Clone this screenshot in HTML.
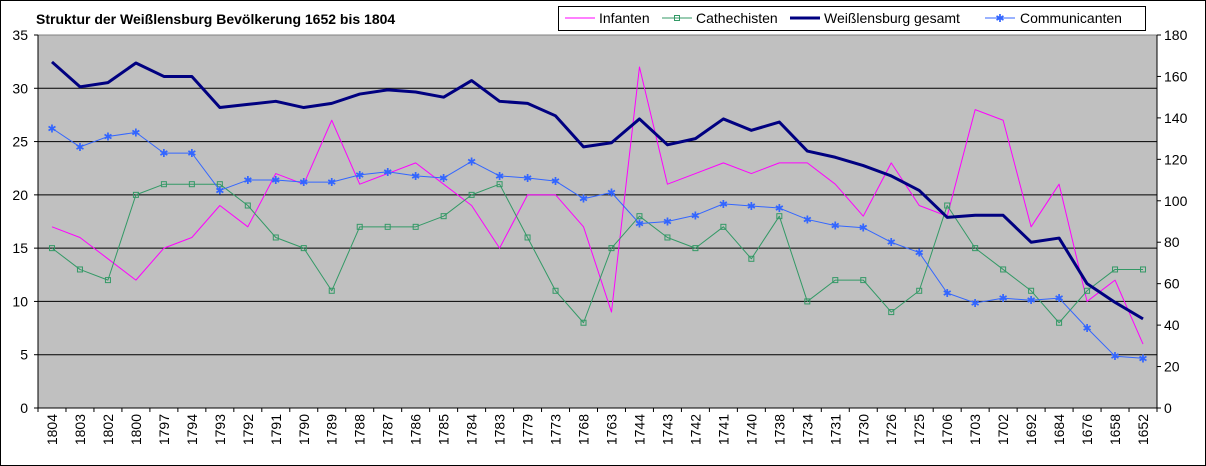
<!DOCTYPE html>
<html><head><meta charset="utf-8"><style>
body{margin:0;background:#fff;}
svg{display:block;font-family:"Liberation Sans",Arial,sans-serif;}
</style></head><body>
<svg width="1206" height="466" viewBox="0 0 1206 466">
<rect x="0.5" y="0.5" width="1205" height="465" fill="#fff" stroke="#000"/>
<text x="36" y="24" font-size="14" font-weight="bold">Struktur der Weißlensburg Bevölkerung 1652 bis 1804</text>
<rect x="38" y="35" width="1119" height="373" fill="#c0c0c0" stroke="#808080"/>
<g id="grid"></g><g id="axes"></g><g id="series"></g>
<g>
<rect x="558.5" y="6.5" width="587" height="24" fill="#fff" stroke="#000"/>
<g><line x1="565" y1="18" x2="595" y2="18" stroke="#ff00ff"/><text x="599" y="23" font-size="14">Infanten</text></g>
<g><line x1="662" y1="18" x2="692" y2="18" stroke="#339966"/><rect x="674.5" y="15.5" width="5" height="5" fill="none" stroke="#339966"/><text x="696" y="23" font-size="14">Cathechisten</text></g>
<g><line x1="790" y1="18" x2="820" y2="18" stroke="#000080" stroke-width="3"/><text x="824" y="23" font-size="14">Weißlensburg gesamt</text></g>
<g><line x1="985" y1="18" x2="1015" y2="18" stroke="#3366ff"/><text x="1000" y="22" font-size="11" fill="#3366ff" text-anchor="middle">✱</text><text x="1020" y="23" font-size="14">Communicanten</text></g>
</g>
</svg>
<script>
const categories=["1804","1803","1802","1800","1797","1794","1793","1792","1791","1790","1789","1788","1787","1786","1785","1784","1783","1779","1773","1768","1763","1744","1743","1742","1741","1740","1738","1734","1731","1730","1726","1725","1706","1703","1702","1692","1684","1676","1658","1652"];
const infanten=[17,16,14,12,15,16,19,17,22,21,27,21,22,23,21,19,15,20,20,17,9,32,21,22,23,22,23,23,21,18,23,19,18,28,27,17,21,10,12,6];
const cathechisten=[15,13,12,20,21,21,21,19,16,15,11,17,17,17,18,20,21,16,11,8,15,18,16,15,17,14,18,10,12,12,9,11,19,15,13,11,8,11,13,13];
const gesamt=[167,155,157,166.5,160,160,145,146.5,148,145,147,151.5,153.5,152.5,150,158,148,147,141,126,128,139.5,127,130,139.5,134,138,124,121,117,112,105,92,93,93,80,82,60,51,43];
const communicanten=[135,126,131,133,123,123,105,110,110,109,109,112.5,114,112,111,119,112,111,109.5,101,104,89,90,93,98.5,97.5,96.5,91,88,87,80,75,55.5,50.7,53,52,53,38.6,25,24];
const leftTicks=[0,5,10,15,20,25,30,35];
const rightTicks=[0,20,40,60,80,100,120,140,160,180];
const NS="http://www.w3.org/2000/svg";
const L=38,R=1157,T=35,B=408,step=(R-L)/categories.length;
const x=i=>L+step*(i+0.5);
const yL=v=>B-(v/35)*(B-T);
const yR=v=>B-(v/180)*(B-T);
function mk(tag,attrs,parent){const e=document.createElementNS(NS,tag);for(const k in attrs)e.setAttribute(k,attrs[k]);parent.appendChild(e);return e;}
const grid=document.getElementById('grid'),axes=document.getElementById('axes'),ser=document.getElementById('series');
leftTicks.forEach(v=>{
 if(v>0&&v<35){const g=mk('line',{x1:L,x2:R,y1:yL(v),y2:yL(v),stroke:'#000'},grid);
 
 }
 mk('line',{x1:L-4,x2:L,y1:yL(v),y2:yL(v),stroke:'#000'},axes);
 const t=mk('text',{x:L-10,y:yL(v)+5,'font-size':14,'text-anchor':'end'},axes);t.textContent=v;
 
 
});
rightTicks.forEach(v=>{
 mk('line',{x1:R,x2:R+4,y1:yR(v),y2:yR(v),stroke:'#000'},axes);
 const t=mk('text',{x:R+7,y:yR(v)+5,'font-size':14},axes);t.textContent=v;
 
 
});
mk('line',{x1:L,x2:L,y1:T,y2:B,stroke:'#000'},axes);
mk('line',{x1:R,x2:R,y1:T,y2:B,stroke:'#000'},axes);
mk('line',{x1:L,x2:R,y1:B,y2:B,stroke:'#000'},axes);
categories.forEach((c,i)=>{
 const tx=L+step*i;mk('line',{x1:tx,x2:tx,y1:B,y2:B+4,stroke:'#000'},axes);
 const t=mk('text',{x:0,y:0,'font-size':14,'text-anchor':'end',transform:`translate(${x(i)+5},${B+6}) rotate(-90)`},axes);t.textContent=c;
 
 
});
mk('line',{x1:R,x2:R,y1:B,y2:B+4,stroke:'#000'},axes);
function line(vals,yf,color,w,name){
 const p=mk('polyline',{points:vals.map((v,i)=>x(i)+','+yf(v)).join(' '),fill:'none',stroke:color,'stroke-width':w,'stroke-linejoin':'round'},ser);
 
 
}
line(infanten,yL,'#ff00ff',1,'series-infanten');
line(cathechisten,yL,'#339966',1,'series-cathechisten');
cathechisten.forEach((v,i)=>{const m=mk('rect',{x:x(i)-2.5,y:yL(v)-2.5,width:5,height:5,fill:'none',stroke:'#339966'},ser);
 
 });
line(communicanten,yR,'#3366ff',1,'series-communicanten');
communicanten.forEach((v,i)=>{const m=mk('text',{x:x(i),y:yR(v)+4,'font-size':11,fill:'#3366ff','text-anchor':'middle'},ser);m.textContent='✱';
 
 });
line(gesamt,yR,'#000080',3,'series-gesamt');
</script>
</body></html>
